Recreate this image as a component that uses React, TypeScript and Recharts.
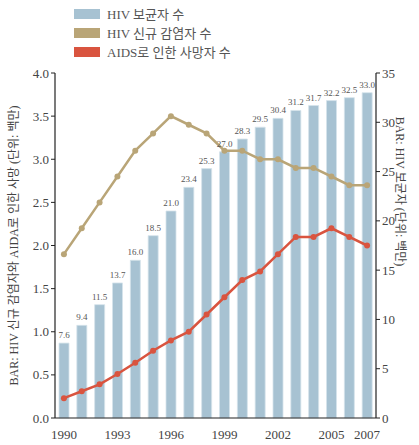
import React from 'react';
import { ComposedChart, Bar, Line, XAxis, YAxis, LabelList } from 'recharts';

const years = [1990, 1991, 1992, 1993, 1994, 1995, 1996, 1997, 1998, 1999, 2000, 2001, 2002, 2003, 2004, 2005, 2006, 2007];
const hivCarriers = [7.6, 9.4, 11.5, 13.7, 16.0, 18.5, 21.0, 23.4, 25.3, 27.0, 28.3, 29.5, 30.4, 31.2, 31.7, 32.2, 32.5, 33.0];
const newInfections = [1.9, 2.2, 2.5, 2.8, 3.1, 3.3, 3.5, 3.4, 3.3, 3.1, 3.1, 3.0, 3.0, 2.9, 2.9, 2.8, 2.7, 2.7];
const aidsDeaths = [0.23, 0.31, 0.39, 0.51, 0.64, 0.78, 0.9, 1.0, 1.2, 1.4, 1.6, 1.7, 1.9, 2.1, 2.1, 2.2, 2.1, 2.0];
const xLabelYears = [1990, 1993, 1996, 1999, 2002, 2005, 2007];
const leftTicks = [0, 0.5, 1, 1.5, 2, 2.5, 3, 3.5, 4];
const rightTicks = [0, 5, 10, 15, 20, 25, 30, 35];
const boundaryTicks = years.map((_, i) => i).concat([years.length]);

const seriesNames = ['HIV 보균자 수', 'HIV 신규 감염자 수', 'AIDS로 인한 사망자 수'];
const leftTitle = 'BAR: HIV 신규 감염자와 AIDA로 인한 사망 (단위: 백만)';
const rightTitle = 'BAR: HIV 보균자 (단위: 백만)';

const COLORS = { bar: '#a7c2d2', gold: '#b9a577', red: '#d9543f' };
const FONT = '"Liberation Serif", "DejaVu Serif", "Noto Sans CJK KR", serif';

const data = years.map((y, i) => ({
  year: y,
  carriers: hivCarriers[i],
  infections: newInfections[i],
  deaths: aidsDeaths[i],
}));

const LeftTitle = (props: any) => {
  const vb = props.viewBox || {};
  const x = vb.x + 4;
  const y = vb.y + vb.height / 2;
  return (
    <text x={x} y={y} transform={`rotate(-90, ${x}, ${y})`} textAnchor="middle" dominantBaseline="central"
      fontSize={12} fill="#444" fontFamily={FONT}>{leftTitle}</text>
  );
};

const RightTitle = (props: any) => {
  const vb = props.viewBox || {};
  const x = vb.x + 24;
  const y = vb.y + vb.height / 2 - 54;
  return (
    <text x={x} y={y} transform={`rotate(90, ${x}, ${y})`} textAnchor="middle" dominantBaseline="central"
      fontSize={12} fill="#444" fontFamily={FONT}>{rightTitle}</text>
  );
};

const LegendBox = () => {
  const cols = [COLORS.bar, COLORS.gold, COLORS.red];
  return (
    <div style={{ position: 'absolute', left: 74, top: 4, fontFamily: FONT, fontSize: 13, color: '#555', zIndex: 2 }}>
      {seriesNames.map((n, i) => (
        <div key={n} style={{ display: 'flex', alignItems: 'center', height: 19 }}>
          <span style={{ display: 'inline-block', width: 26, height: 10, background: cols[i], marginRight: 7 }} />
          <span>{n}</span>
        </div>
      ))}
    </div>
  );
};

export default function App() {
  return (
    <div style={{ position: 'absolute', left: 0, top: 0, width: 419, height: 445, background: '#fff' }}>
      <LegendBox />
      <ComposedChart width={419} height={445} data={data}
        margin={{ top: 73, right: 8, bottom: 5, left: 10 }}>
        <XAxis xAxisId="marks" type="number" domain={[0, years.length]} ticks={boundaryTicks}
          tick={false} tickSize={4} axisLine={false} height={0} tickLine={{ stroke: '#222' }} />
        <XAxis dataKey="year" type="category" interval={0} tickLine={false}
          axisLine={{ stroke: '#222', strokeWidth: 1.2 }} height={22}
          tick={{ fill: '#444', fontSize: 13, fontFamily: FONT }} tickMargin={6}
          tickFormatter={(v: any) => (xLabelYears.includes(Number(v)) ? String(v) : '')} />
        <YAxis yAxisId="left" orientation="left" domain={[0, 4]} ticks={leftTicks} width={45}
          tickFormatter={(v: number) => v.toFixed(1)} tickSize={4}
          axisLine={{ stroke: '#222', strokeWidth: 1.2 }} tickLine={{ stroke: '#222' }}
          tick={{ fill: '#444', fontSize: 13, fontFamily: FONT }} label={<LeftTitle />} />
        <YAxis yAxisId="right" orientation="right" domain={[0, 35]} ticks={rightTicks} width={35}
          tickSize={4} axisLine={{ stroke: '#222', strokeWidth: 1.2 }} tickLine={{ stroke: '#222' }}
          tick={{ fill: '#444', fontSize: 13, fontFamily: FONT }} label={<RightTitle />} />
        <Bar yAxisId="right" dataKey="carriers" fill={COLORS.bar} stroke="#d6e3eb" strokeWidth={0.8}
          barSize={10} isAnimationActive={false}>
          <LabelList dataKey="carriers" position="top" offset={5}
            formatter={(v: any) => Number(v).toFixed(1)}
            style={{ fontSize: 9, fill: '#555', fontFamily: FONT }} />
        </Bar>
        <Line yAxisId="left" dataKey="infections" stroke={COLORS.gold} strokeWidth={2.5}
          dot={{ r: 3, fill: COLORS.gold, stroke: COLORS.gold, strokeWidth: 0 }} isAnimationActive={false} />
        <Line yAxisId="left" dataKey="deaths" stroke={COLORS.red} strokeWidth={2.5}
          dot={{ r: 3, fill: COLORS.red, stroke: COLORS.red, strokeWidth: 0 }} isAnimationActive={false} />
      </ComposedChart>
    </div>
  );
}
